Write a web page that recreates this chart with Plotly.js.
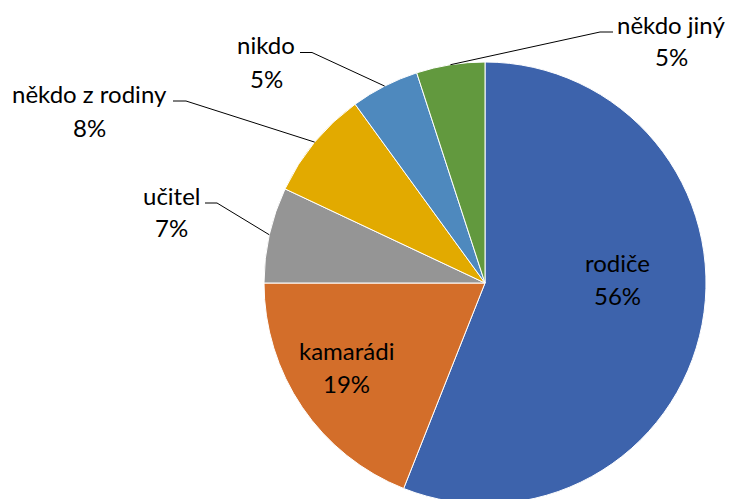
<!DOCTYPE html>
<html>
<head>
<meta charset="utf-8">
<script src="https://cdn.plot.ly/plotly-3.0.1.min.js"></script>
<style>
  html, body { margin: 0; padding: 0; overflow: hidden; background: #fff; }
  #chart { width: 731px; height: 505px; }
</style>
</head>
<body>
<div id="chart"></div>
<script>
// ---- data ----
const categories = ['rodiče', 'kamarádi', 'učitel', 'někdo z rodiny', 'nikdo', 'někdo jiný'];
const values = [56, 19, 7, 8, 5, 5];
const colors = ['#3D63AC', '#D36E2A', '#959595', '#E2AA00', '#4E89BE', '#62993E'];

// ---- layout config (pixels) ----
const W = 731, H = 505;
const cx = 485, cy = 283, R = 221;
const FONT = 'Lato, "Open Sans", sans-serif';
const FS = 24;
const LINE_GAP = 33;
// label placement: name centre (x, y of first line) and optional leader elbow
const labelPos = {
  'rodiče':         { x: 617, y: 262, leader: null },
  'kamarádi':       { x: 346, y: 350, leader: null },
  'učitel':         { x: 171, y: 195, leader: { ex: 217, hx: 205, y: 203 } },
  'někdo z rodiny': { x: 89,  y: 94,  leader: { ex: 186, hx: 173, y: 101 } },
  'nikdo':          { x: 266, y: 45,  leader: { ex: 312, hx: 300, y: 52.5 } },
  'někdo jiný':     { x: 671, y: 24,  leader: { ex: 600, hx: 613, y: 32 } }
};

const px = x => x / W;
const py = y => 1 - y / H;

const total = values.reduce((a, b) => a + b, 0);

const trace = {
  type: 'pie',
  labels: categories,
  values: values,
  sort: false,
  direction: 'clockwise',
  rotation: 0,
  textinfo: 'none',
  hoverinfo: 'label+percent',
  marker: { colors: colors, line: { color: '#ffffff', width: 1 } },
  domain: { x: [px(cx - R), px(cx + R)], y: [py(cy + R), py(cy - R)] },
  showlegend: false
};

const annotations = [];
const shapes = [];
let cum = 0;
categories.forEach((name, i) => {
  const v = values[i];
  const mid = (cum + v / 2) / total * 2 * Math.PI; // clockwise from top
  cum += v;
  const pct = Math.round(v / total * 100) + '%';
  const p = labelPos[name];
  annotations.push({
    xref: 'paper', yref: 'paper', x: px(p.x), y: py(p.y),
    xanchor: 'center', yanchor: 'middle', showarrow: false,
    text: name, font: { family: FONT, size: FS, color: '#000' }
  });
  annotations.push({
    xref: 'paper', yref: 'paper', x: px(p.x), y: py(p.y + LINE_GAP),
    xanchor: 'center', yanchor: 'middle', showarrow: false,
    text: pct, font: { family: FONT, size: FS, color: '#000' }
  });
  if (p.leader) {
    const ax = cx + R * Math.sin(mid);
    const ay = cy - R * Math.cos(mid);
    const L = p.leader;
    const ln = { color: '#000', width: 1 };
    shapes.push({ type: 'line', xref: 'paper', yref: 'paper',
      x0: px(ax), y0: py(ay), x1: px(L.ex), y1: py(L.y), line: ln });
    shapes.push({ type: 'line', xref: 'paper', yref: 'paper',
      x0: px(L.ex), y0: py(L.y), x1: px(L.hx), y1: py(L.y), line: ln });
  }
});

const layout = {
  width: W, height: H,
  margin: { l: 0, r: 0, t: 0, b: 0, pad: 0 },
  paper_bgcolor: '#ffffff',
  plot_bgcolor: '#ffffff',
  annotations: annotations,
  shapes: shapes,
  font: { family: FONT, size: FS, color: '#000' }
};

Plotly.newPlot('chart', [trace], layout, { displayModeBar: false, staticPlot: true });
</script>
</body>
</html>
